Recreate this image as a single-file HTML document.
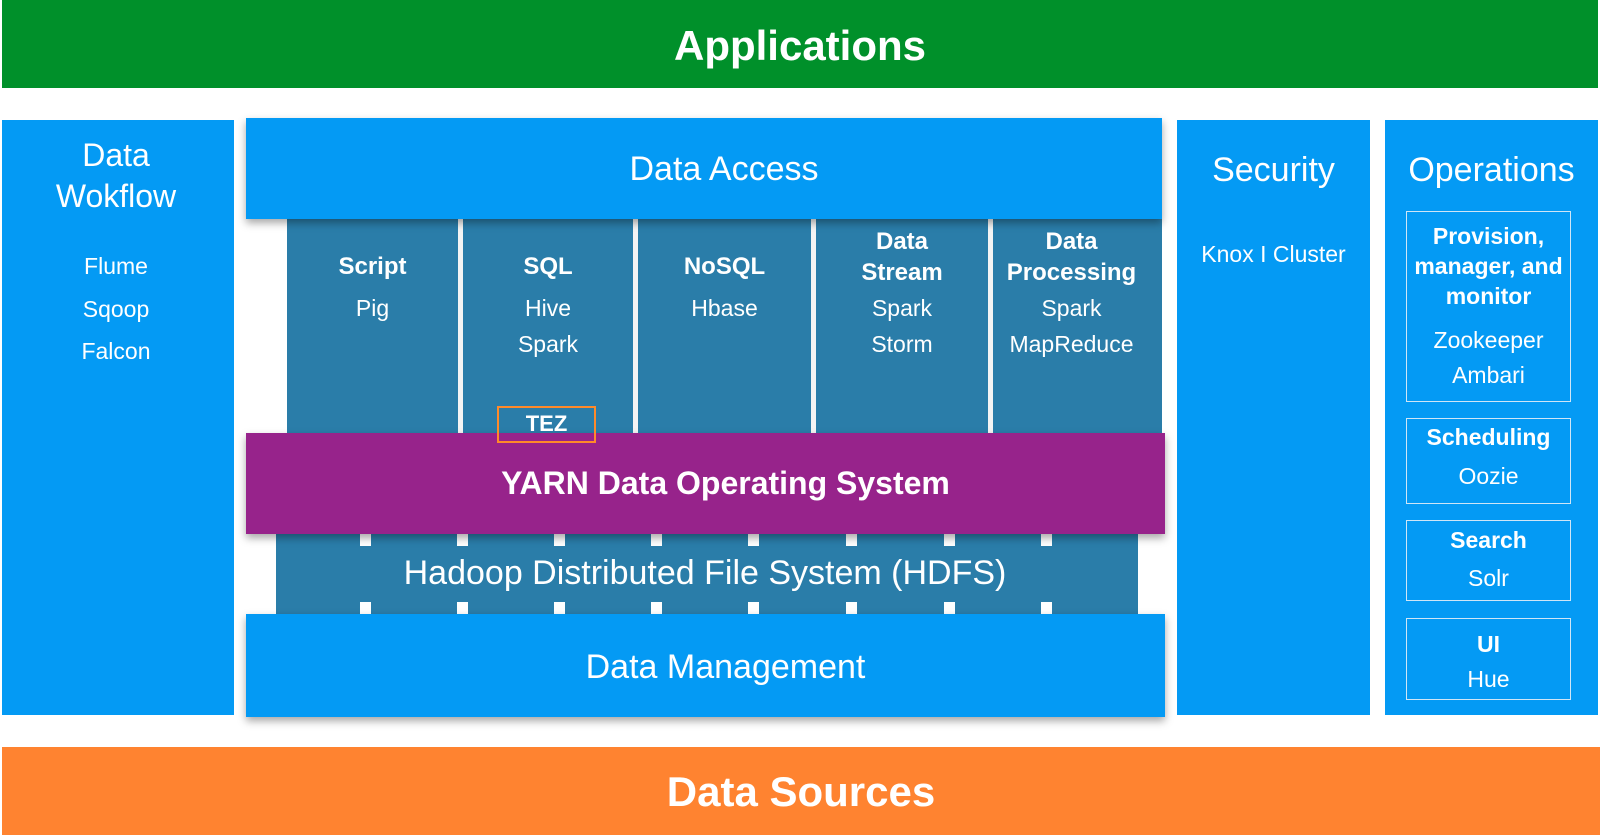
<!DOCTYPE html>
<html><head><meta charset="utf-8"><style>
body{margin:0;width:1600px;height:835px;background:#fff;position:relative;overflow:hidden;font-family:"Liberation Sans",sans-serif;color:#fff}
.b{position:absolute}
.t{position:absolute;text-align:center;white-space:nowrap;line-height:1}
.bold{font-weight:bold}
.blue{background:#049af4}
.teal{background:#2a7da9}
.sq{position:absolute;width:11px;height:12px;background:#fff}
.ob{position:absolute;left:1406px;width:165px;border:1px solid #cfe6f7;box-sizing:border-box}
</style></head><body>
<div class="b" style="left:2px;top:0;width:1596px;height:88px;background:#00902a"></div>
<div class="t bold" style="left:2px;width:1596px;top:25px;font-size:42px">Applications</div>

<div class="b blue" style="left:2px;top:120px;width:232px;height:595px"></div>
<div class="t" style="left:0px;width:232px;top:135px;font-size:32px;line-height:41px">Data<br>Wokflow</div>
<div class="t" style="left:0px;width:232px;top:245px;font-size:23px;line-height:42.5px">Flume<br>Sqoop<br>Falcon</div>

<div class="b teal" style="left:287px;top:210px;width:875px;height:230px"></div>
<div class="b" style="left:458px;top:218px;width:5px;height:216px;background:#f4f4f4"></div>
<div class="b" style="left:633px;top:218px;width:5px;height:216px;background:#f4f4f4"></div>
<div class="b" style="left:811px;top:218px;width:5px;height:216px;background:#f4f4f4"></div>
<div class="b" style="left:988px;top:218px;width:5px;height:216px;background:#f4f4f4"></div>

<div class="b blue" style="left:246px;top:118px;width:916px;height:101px;box-shadow:0 4px 8px rgba(0,0,0,.35)"></div>
<div class="t" style="left:266px;width:916px;top:152px;font-size:34px">Data Access</div>

<div class="t bold" style="left:287px;width:171px;top:255px;font-size:24px">Script</div>
<div class="t" style="left:287px;width:171px;top:297px;font-size:23px">Pig</div>
<div class="t bold" style="left:463px;width:170px;top:255px;font-size:24px">SQL</div>
<div class="t" style="left:463px;width:170px;top:290px;font-size:23px;line-height:36px">Hive<br>Spark</div>
<div class="t bold" style="left:638px;width:173px;top:255px;font-size:24px">NoSQL</div>
<div class="t" style="left:638px;width:173px;top:297px;font-size:23px">Hbase</div>
<div class="t bold" style="left:816px;width:172px;top:226px;font-size:24px;line-height:31px">Data<br>Stream</div>
<div class="t" style="left:816px;width:172px;top:290px;font-size:23px;line-height:36px">Spark<br>Storm</div>
<div class="t bold" style="left:993px;width:157px;top:226px;font-size:24px;line-height:31px">Data<br>Processing</div>
<div class="t" style="left:993px;width:157px;top:290px;font-size:23px;line-height:36px">Spark<br>MapReduce</div>

<div class="b teal" style="left:276px;top:530px;width:862px;height:86px"></div>
<div class="sq" style="left:360px;top:534px"></div><div class="sq" style="left:457px;top:534px"></div><div class="sq" style="left:554px;top:534px"></div><div class="sq" style="left:651px;top:534px"></div><div class="sq" style="left:748px;top:534px"></div><div class="sq" style="left:846px;top:534px"></div><div class="sq" style="left:944px;top:534px"></div><div class="sq" style="left:1041px;top:534px"></div>
<div class="sq" style="left:360px;top:602px"></div><div class="sq" style="left:457px;top:602px"></div><div class="sq" style="left:554px;top:602px"></div><div class="sq" style="left:651px;top:602px"></div><div class="sq" style="left:748px;top:602px"></div><div class="sq" style="left:846px;top:602px"></div><div class="sq" style="left:944px;top:602px"></div><div class="sq" style="left:1041px;top:602px"></div>
<div class="t" style="left:274px;width:862px;top:556px;font-size:34px">Hadoop Distributed File System (HDFS)</div>

<div class="b" style="left:246px;top:433px;width:919px;height:101px;background:#97238b;box-shadow:0 4px 8px rgba(0,0,0,.35)"></div>
<div class="t bold" style="left:266px;width:919px;top:467px;font-size:32px">YARN Data Operating System</div>
<div class="b" style="left:497px;top:406px;width:99px;height:37px;border:2px solid #ff8a2a;box-sizing:border-box"></div>
<div class="t bold" style="left:497px;width:99px;top:413px;font-size:22px">TEZ</div>

<div class="b blue" style="left:246px;top:614px;width:919px;height:103px;box-shadow:0 4px 8px rgba(0,0,0,.35)"></div>
<div class="t" style="left:266px;width:919px;top:650px;font-size:34px">Data Management</div>

<div class="b blue" style="left:1177px;top:120px;width:193px;height:595px"></div>
<div class="t" style="left:1177px;width:193px;top:153px;font-size:34px">Security</div>
<div class="t" style="left:1177px;width:193px;top:243px;font-size:23px">Knox I Cluster</div>

<div class="b blue" style="left:1385px;top:120px;width:213px;height:595px"></div>
<div class="t" style="left:1385px;width:213px;top:153px;font-size:34px">Operations</div>
<div class="ob" style="top:211px;height:191px"></div>
<div class="t bold" style="left:1406px;width:165px;top:221px;font-size:23px;line-height:30px">Provision,<br>manager, and<br>monitor</div>
<div class="t" style="left:1406px;width:165px;top:323px;font-size:23px;line-height:35px">Zookeeper<br>Ambari</div>
<div class="ob" style="top:418px;height:86px"></div>
<div class="t bold" style="left:1406px;width:165px;top:426px;font-size:23px">Scheduling</div>
<div class="t" style="left:1406px;width:165px;top:465px;font-size:23px">Oozie</div>
<div class="ob" style="top:520px;height:81px"></div>
<div class="t bold" style="left:1406px;width:165px;top:529px;font-size:23px">Search</div>
<div class="t" style="left:1406px;width:165px;top:567px;font-size:23px">Solr</div>
<div class="ob" style="top:618px;height:82px"></div>
<div class="t bold" style="left:1406px;width:165px;top:633px;font-size:23px">UI</div>
<div class="t" style="left:1406px;width:165px;top:668px;font-size:23px">Hue</div>

<div class="b" style="left:2px;top:747px;width:1598px;height:88px;background:#ff8330"></div>
<div class="t bold" style="left:2px;width:1598px;top:771px;font-size:42px">Data Sources</div>
</body></html>
